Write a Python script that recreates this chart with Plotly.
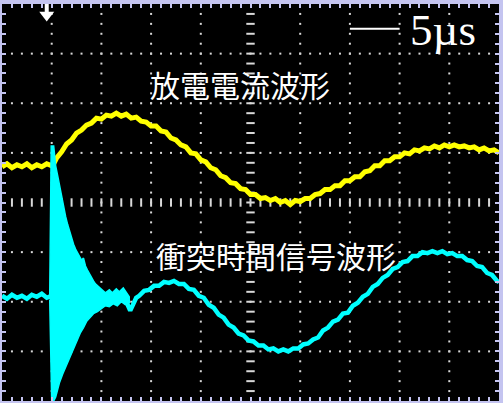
import numpy as np
import plotly.graph_objects as go

# ---------------- data (time in µs, level in screen units: 50 per division) -------------
yellow_t = [0, 0.5, 1, 1.5, 2, 2.5, 3, 3.5, 4, 4.5, 5, 5.2,
            5.5, 6, 6.5, 7, 7.5, 8, 8.5, 9, 9.5, 10, 10.5, 11, 11.5, 12, 12.5, 13, 13.5, 14, 14.5,
            15, 15.5, 16, 16.5, 17, 17.5, 18, 18.5, 19, 19.5, 20, 20.5, 21, 21.5, 22, 22.5, 23,
            23.5, 24, 24.5, 25, 25.5, 26, 26.5, 27, 27.5, 28, 28.5, 29, 29.5, 30, 30.5, 31, 31.5,
            32, 32.5, 33, 33.5, 34, 34.5, 35, 35.5, 36, 36.5, 37, 37.5, 38, 38.5, 39, 39.5, 40,
            40.5, 41, 41.5, 42, 42.5, 43, 43.5, 44, 44.5, 45, 45.5, 46, 46.5, 47, 47.5, 48, 48.5,
            49, 49.5, 50]
yellow_v = [36, 39, 35, 38, 36, 39, 35, 38, 36, 39, 37, 39,
            45, 51, 59, 63, 70, 73, 78, 80, 85, 84, 88, 87, 90, 87, 89, 85, 86, 82, 81,
            77, 77, 72, 71, 65, 63, 58, 56, 50, 49, 43, 41, 35, 33, 27, 25, 20,
            19, 14, 13, 8, 8, 4, 5, 2, 4, 0, 2, -2, 2, 1, 4, 4, 8,
            9, 13, 13, 17, 17, 22, 22, 26, 26, 31, 32, 37, 37, 42, 42, 46, 46,
            50, 49, 53, 52, 55, 54, 57, 55, 58, 56, 58, 56, 57, 55, 56, 53, 55,
            52, 53, 50]

cyan_t = [0, 0.5, 1, 1.5, 2, 2.5, 3, 3.5, 4, 4.5, 5,
          9.8, 10.3, 10.8, 11.3, 11.8, 12.3, 12.6, 12.9, 13.2, 13.5, 13.8, 14.3, 14.8, 15.3,
          15.8, 16.3, 16.8, 17.3, 17.8, 18.3, 18.8, 19.3, 19.8, 20.3, 20.8, 21.3, 21.8, 22.3,
          22.8, 23.3, 23.8, 24.3, 24.8, 25.3, 25.8, 26.3, 26.8, 27.3, 27.8, 28.3, 28.8, 29.3,
          29.8, 30.3, 30.8, 31.3, 31.8, 32.3, 32.8, 33.3, 33.8, 34.3, 34.8, 35.3, 35.8, 36.3,
          36.8, 37.3, 37.8, 38.3, 38.8, 39.3, 39.8, 40.3, 40.8, 41.3, 41.8, 42.3, 42.8, 43.3,
          43.8, 44.3, 44.8, 45.3, 45.8, 46.3, 46.8, 47.3, 47.8, 48.3, 48.8, 49.3, 49.8, 50]
cyan_v = [-94, -97, -93, -96, -94, -97, -93, -95, -92, -96, -94,
          -94, -98, -92, -97, -93, -99, -102, -109, -103, -96, -94, -89, -88, -84,
          -84, -80, -81, -79, -82, -82, -87, -88, -94, -96, -103, -106, -113, -116,
          -123, -126, -132, -134, -139, -140, -144, -144, -148, -147, -150, -148, -150, -147,
          -147, -143, -142, -138, -136, -129, -126, -120, -118, -112, -111, -104, -101, -95,
          -92, -85, -82, -76, -73, -67, -65, -60, -59, -54, -54, -50, -51, -49,
          -51, -49, -52, -51, -54, -54, -58, -59, -64, -65, -71, -73, -79, -80]

# envelope of the impact burst (upper edge left->right, then lower edge right->left)
burst_t = [4.8, 4.95, 5.2, 5.4, 5.6, 5.8, 6.0, 6.2, 6.4, 6.6, 6.8, 7.0, 7.2, 7.4, 7.6, 7.8,
           8.0, 8.2, 8.4, 8.6, 8.8, 9.0, 9.2, 9.4, 9.6, 9.8, 10.1, 10.4, 10.8, 11.1, 11.5,
           11.8, 12.2, 12.5, 12.8,
           12.8, 12.4, 12.0, 11.6, 11.2, 10.8, 10.4, 10.0, 9.6, 9.2, 8.8, 8.5, 8.2, 7.9, 7.6,
           7.3, 7.0, 6.7, 6.4, 6.1, 5.8, 5.6, 5.4, 5.2, 5.0, 4.8]
burst_v = [-94, 57, 57, 37, 27, 17, 4, -6, -14, -22, -29, -36, -42, -47, -51, -54,
           -58, -56, -64, -68, -72, -76, -79, -82, -84, -86, -89, -91, -88, -91, -87,
           -90, -86, -91, -95,
           -101, -103, -100, -104, -102, -105, -104, -107, -110, -112, -116, -120, -126, -131, -138,
           -145, -151, -158, -165, -173, -181, -188, -196, -200, -200, -98]

label_current = "放電電流波形"
label_impact = "衝突時間信号波形"
scale_label = "5µs"

X_RANGE = [0, 50]
Y_RANGE = [-200, 200]

# ---------------- figure -------------
GRID = "#d8d8d8"
EDGE = "#c4c4f0"
fig = go.Figure()

# dotted graticule
gx, gy = [], []
for xv in [5, 10, 15, 20, 30, 35, 40, 45]:
    for yv in np.arange(-190, 200, 10):
        gx.append(xv); gy.append(yv)
for yv in [-150, -100, -50, 50, 100, 150]:
    for xv in np.arange(1, 50, 1):
        gx.append(xv); gy.append(yv)
fig.add_trace(go.Scatter(x=gx, y=gy, mode="markers", hoverinfo="skip",
                         marker=dict(symbol="square", size=2, color=GRID, line=dict(width=0))))
# centre lines with tick dashes
fig.add_trace(go.Scatter(x=list(np.arange(1, 50, 1)), y=[0] * 49, mode="markers", hoverinfo="skip",
                         marker=dict(symbol="line-ns", size=6, line=dict(width=2, color=GRID))))
cy = list(np.arange(-190, 200, 10))
fig.add_trace(go.Scatter(x=[25] * len(cy), y=cy, mode="markers", hoverinfo="skip",
                         marker=dict(symbol="line-ew", size=6, line=dict(width=2, color=GRID))))

# waveforms
fig.add_trace(go.Scatter(x=yellow_t, y=yellow_v, mode="lines",
                         line=dict(color="#ffff00", width=5)))
fig.add_trace(go.Scatter(x=cyan_t, y=cyan_v, mode="lines",
                         line=dict(color="#00ffff", width=4.5)))
fig.add_trace(go.Scatter(x=burst_t, y=burst_v, mode="lines", fill="toself",
                         fillcolor="#00ffff", line=dict(color="#00ffff", width=1.5)))

# trigger marker
fig.add_shape(type="line", x0=4.5, x1=4.5, y0=200, y1=190, line=dict(color="white", width=4))
fig.add_trace(go.Scatter(x=[4.5], y=[189], mode="markers", hoverinfo="skip",
                         marker=dict(symbol="triangle-down", size=13, color="white", line=dict(width=0))))

# scale bar
fig.add_shape(type="line", x0=35, x1=40, y0=175, y1=175, line=dict(color="white", width=2))
fig.add_annotation(x=40.8, y=174, text=scale_label, showarrow=False, xanchor="left", yanchor="middle",
                   font=dict(family="Liberation Serif", size=45, color="white"))

# labels
fig.add_annotation(x=23.9, y=119, text=label_current, showarrow=False, xanchor="center", yanchor="middle",
                   font=dict(family="Noto Sans CJK JP", size=30, color="white"))
fig.add_annotation(x=27.55, y=-53, text=label_impact, showarrow=False, xanchor="center", yanchor="middle",
                   font=dict(family="Noto Sans CJK JP", size=30, color="white"))

axis_common = dict(showgrid=False, zeroline=False, showticklabels=False,
                   showline=True, linecolor=EDGE, linewidth=2, mirror="ticks",
                   ticks="inside", ticklen=4, tickwidth=2, tickcolor=EDGE)
fig.update_xaxes(range=X_RANGE, tick0=0, dtick=5,
                 minor=dict(dtick=1, ticks="inside", ticklen=4, tickwidth=2, tickcolor=EDGE),
                 **axis_common)
fig.update_yaxes(range=Y_RANGE, tick0=0, dtick=50,
                 minor=dict(dtick=10, ticks="inside", ticklen=4, tickwidth=2, tickcolor=EDGE),
                 **axis_common)
fig.update_layout(width=503, height=403, margin=dict(l=2, r=2, t=2, b=2),
                  paper_bgcolor=EDGE, plot_bgcolor="black", showlegend=False)

fig.write_html("out.html", config={"displayModeBar": False},
               post_script="document.body.style.margin='0';document.body.style.overflow='hidden';")
